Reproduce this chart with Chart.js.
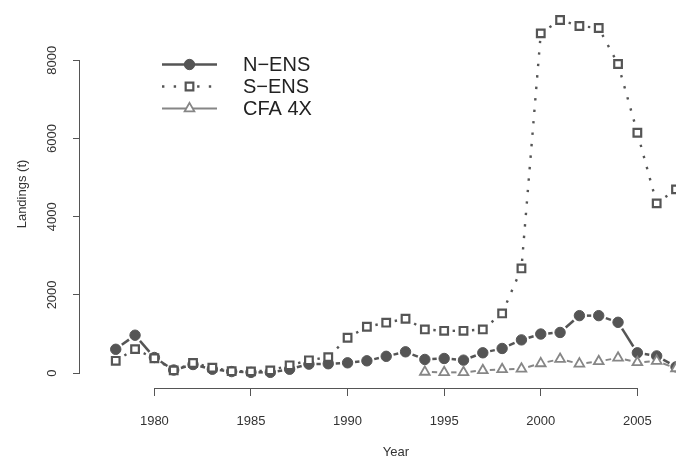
<!DOCTYPE html>
<html>
<head>
<meta charset="utf-8">
<script src="https://cdn.jsdelivr.net/npm/chart.js@4.4.1/dist/chart.umd.min.js"></script>
<style>
html,body{margin:0;padding:0;background:#ffffff;}
canvas{display:block;}
</style>
</head>
<body>
<canvas id="chart" width="676" height="458"></canvas>
<script>
// ---- data ----
const years = [1978,1979,1980,1981,1982,1983,1984,1985,1986,1987,1988,1989,1990,1991,1992,1993,1994,1995,1996,1997,1998,1999,2000,2001,2002,2003,2004,2005,2006,2007];
const nEns  = [610,970,400,80,220,100,40,20,20,100,230,240,264,315,430,545,350,375,332,520,631,850,1000,1040,1470,1470,1300,520,440,160];
const sEns  = [315,614,380,70,260,140,50,45,70,200,328,410,904,1185,1290,1390,1117,1082,1082,1117,1526,2677,8687,9028,8875,8824,7903,6146,4340,4698];
const cfaYears = [1994,1995,1996,1997,1998,1999,2000,2001,2002,2003,2004,2005,2006,2007];
const cfa4x    = [30,20,20,70,95,110,248,360,240,300,391,275,310,120];
const seriesNames = ['N\u2212ENS', 'S\u2212ENS', 'CFA 4X'];
const xTicks = [1980,1985,1990,1995,2000,2005];
const yTicks = [0,2000,4000,6000,8000];
const xTitle = 'Year';
const yTitle = 'Landings (t)';

// ---- styles ----
const FONT = '"Liberation Sans", Arial, Helvetica, sans-serif';
const DARK = '#555555';
const LIGHT = '#868686';
const TEXT = '#333333';
const AXIS = '#555555';
const X_PLOT_END = 2008.86; // right edge of the (cropped) plot region, used to centre the x title

// R "type = b" look: each segment stops short of the markers
function gapDash(kind, gap) {
  return c => {
    const a = c.p0, b = c.p1;
    const L = Math.hypot(b.x - a.x, b.y - a.y);
    const tag = 1000 + c.p0DataIndex / 64;
    const V = L - 2 * gap;
    if (kind === 'solid') return V > 0 ? [0, gap, V, gap + tag] : [0, L + tag];
    const d = 2.4, s = 11.5;
    if (V < d) return [0, L + tag];
    const n = Math.floor((V - d) / s) + 1;
    const lead = gap + (V - ((n - 1) * s + d)) / 2;
    const arr = [0, lead];
    for (let i = 0; i < n; i++) { arr.push(d); if (i < n - 1) arr.push(s - d); }
    arr.push(lead + tag);
    return arr;
  };
}

const toPoints = (xs, ys) => xs.map((x, i) => ({x: x, y: ys[i]}));

const datasets = [
  {
    label: seriesNames[0], data: toPoints(years, nEns), order: 3,
    borderColor: DARK, borderWidth: 2.5, borderCapStyle: 'butt',
    pointStyle: 'circle', pointRadius: 5.2, pointHoverRadius: 5.2,
    pointBackgroundColor: DARK, pointBorderColor: DARK, pointBorderWidth: 1,
    segment: { borderDash: gapDash('solid', 7.5) }, clip: false
  },
  {
    label: seriesNames[1], data: toPoints(years, sEns), order: 2,
    borderColor: DARK, borderWidth: 2.4, borderCapStyle: 'butt',
    pointStyle: 'rect', pointRadius: 5.4, pointHoverRadius: 5.4,
    pointBackgroundColor: '#ffffff', pointBorderColor: DARK, pointBorderWidth: 2.2,
    segment: { borderDash: gapDash('dotted', 7) }, clip: false
  },
  {
    label: seriesNames[2], data: toPoints(cfaYears, cfa4x), order: 1,
    borderColor: LIGHT, borderWidth: 2, borderCapStyle: 'butt',
    pointStyle: 'triangle', pointRadius: 5.6, pointHoverRadius: 5.6,
    pointBackgroundColor: '#ffffff', pointBorderColor: LIGHT, pointBorderWidth: 1.8,
    segment: { borderDash: gapDash('solid', 7) }, clip: false
  }
];

function drawMarker(ctx, style, x, y, r) {
  ctx.beginPath();
  if (style === 'circle') {
    ctx.arc(x, y, r, 0, Math.PI * 2);
  } else if (style === 'rect') {
    const s = r * Math.SQRT1_2;
    ctx.rect(x - s, y - s, 2 * s, 2 * s);
  } else if (style === 'triangle') {
    for (let k = 0; k < 3; k++) {
      const a = k * 2 * Math.PI / 3;
      const px = x + Math.sin(a) * r, py = y - Math.cos(a) * r;
      if (k === 0) ctx.moveTo(px, py); else ctx.lineTo(px, py);
    }
    ctx.closePath();
  }
  ctx.fill();
  ctx.stroke();
}

// R-like axes (line only between first and last tick), x title and legend
const rDecor = {
  id: 'rDecor',
  afterDraw(chart) {
    const ctx = chart.ctx;
    const xs = chart.scales.x, ys = chart.scales.y;
    ctx.save();
    ctx.strokeStyle = AXIS;
    ctx.lineWidth = 1;
    ctx.setLineDash([]);
    const by = Math.round(chart.chartArea.bottom) + 0.5;
    ctx.beginPath();
    ctx.moveTo(Math.round(xs.getPixelForValue(xTicks[0])) + 0.5, by);
    ctx.lineTo(Math.round(xs.getPixelForValue(xTicks[xTicks.length - 1])) + 0.5, by);
    ctx.stroke();
    const lx = Math.round(chart.chartArea.left) - 0.5;
    ctx.beginPath();
    ctx.moveTo(lx, Math.round(ys.getPixelForValue(yTicks[0])) + 0.5);
    ctx.lineTo(lx, Math.round(ys.getPixelForValue(yTicks[yTicks.length - 1])) + 0.5);
    ctx.stroke();

    // x axis title, centred on the full plot region
    ctx.font = '13px ' + FONT;
    ctx.fillStyle = TEXT;
    ctx.textAlign = 'center';
    ctx.textBaseline = 'middle';
    ctx.fillText(xTitle, (chart.chartArea.left + xs.getPixelForValue(X_PLOT_END)) / 2, 452);

    // legend
    const L = {x0: 162, x1: 217, textX: 243, y0: 64.5, dy: 22};
    ctx.font = '20px ' + FONT;
    ctx.textBaseline = 'middle';
    ctx.textAlign = 'left';
    chart.data.datasets.forEach((ds, i) => {
      const y = L.y0 + i * L.dy;
      ctx.strokeStyle = ds.borderColor;
      ctx.lineWidth = ds.borderWidth;
      ctx.setLineDash(i === 1 ? [2.4, 9.3] : []);
      ctx.lineDashOffset = 0;
      ctx.beginPath();
      ctx.moveTo(L.x0, y);
      ctx.lineTo(L.x1, y);
      ctx.stroke();
      ctx.setLineDash([]);
      ctx.fillStyle = ds.pointBackgroundColor;
      ctx.strokeStyle = ds.pointBorderColor;
      ctx.lineWidth = ds.pointBorderWidth;
      drawMarker(ctx, ds.pointStyle, (L.x0 + L.x1) / 2, y, ds.pointRadius);
      ctx.fillStyle = '#222222';
      ctx.fillText(ds.label, L.textX, y + 1);
    });
    ctx.restore();
  }
};

Chart.defaults.font.family = FONT;
Chart.defaults.color = TEXT;

new Chart(document.getElementById('chart'), {
  type: 'line',
  data: { datasets: datasets },
  options: {
    responsive: false,
    animation: false,
    events: [],
    devicePixelRatio: 1,
    layout: { autoPadding: false, padding: { left: 0, top: 0, right: 0, bottom: 0 } },
    plugins: { legend: { display: false }, tooltip: { enabled: false } },
    elements: { line: { tension: 0 } },
    scales: {
      x: {
        type: 'linear', position: 'bottom',
        min: 1976.15, max: 2007.0,
        afterBuildTicks: s => { s.ticks = xTicks.map(v => ({value: v})); },
        afterFit: s => { s.height = 70; s.paddingLeft = 0; s.paddingRight = 0; },
        border: { display: false },
        grid: { display: true, drawOnChartArea: false, drawTicks: true, tickLength: 8, color: AXIS, lineWidth: 1 },
        ticks: { font: { size: 13 }, color: TEXT, padding: 18, maxRotation: 0, minRotation: 0, autoSkip: false,
                 callback: v => String(v) },
        title: { display: false, text: xTitle }
      },
      y: {
        type: 'linear', position: 'left',
        min: -380, max: 9540,
        afterBuildTicks: s => { s.ticks = yTicks.map(v => ({value: v})); },
        afterFit: s => { s.width = 80; s.paddingTop = 0; s.paddingBottom = 0; },
        border: { display: false },
        grid: { display: true, drawOnChartArea: false, drawTicks: true, tickLength: 7, color: AXIS, lineWidth: 1 },
        ticks: { font: { size: 13 }, color: TEXT, padding: 6, minRotation: 90, maxRotation: 90, crossAlign: 'center', autoSkip: false,
                 callback: v => String(v) },
        title: { display: true, text: yTitle, font: { size: 13, lineHeight: 1 }, color: TEXT, padding: { top: 15.5, bottom: 0 } }
      }
    }
  },
  plugins: [rDecor]
});
</script>
</body>
</html>
